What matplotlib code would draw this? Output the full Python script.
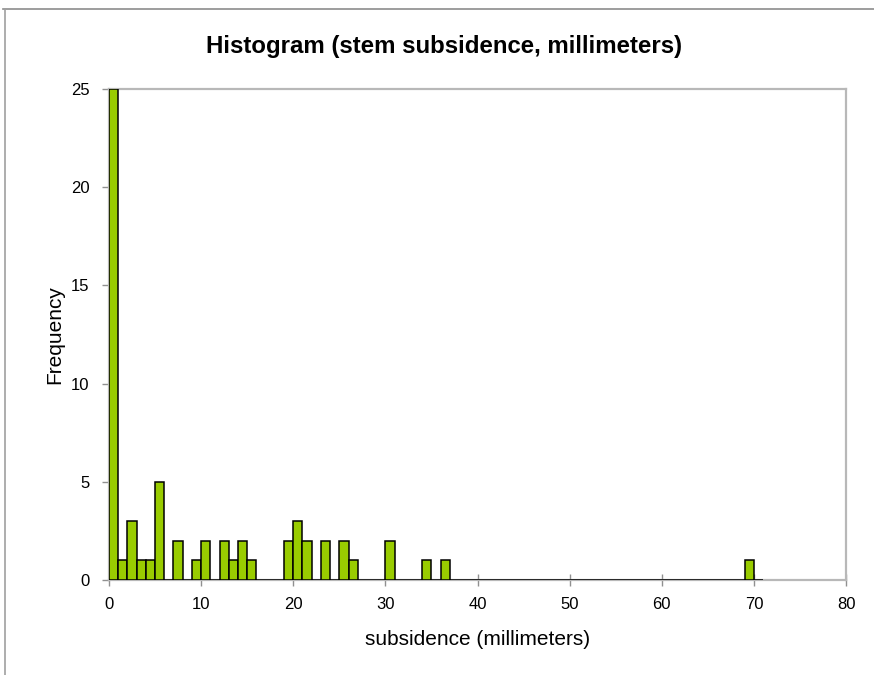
import matplotlib
matplotlib.use("Agg")

import matplotlib.pyplot as plt
from matplotlib.lines import Line2D

plt.rcParams["font.family"] = ["Liberation Sans", "DejaVu Sans"]

# ---------- Data (bins of 1 mm, 0..71) ----------
bin_edges = list(range(0, 72))
counts = [25, 1, 3, 1, 1, 5, 0, 2, 0, 1,
          2, 0, 2, 1, 2, 1, 0, 0, 0, 2,
          3, 2, 0, 2, 0, 2, 1, 0, 0, 0,
          2, 0, 0, 0, 1, 0, 1, 0, 0, 0,
          0, 0, 0, 0, 0, 0, 0, 0, 0, 0,
          0, 0, 0, 0, 0, 0, 0, 0, 0, 0,
          0, 0, 0, 0, 0, 0, 0, 0, 0, 1,
          0]
x_ticks = [0, 10, 20, 30, 40, 50, 60, 70, 80]
y_ticks = [0, 5, 10, 15, 20, 25]

# ---------- Figure ----------
fig = plt.figure(figsize=(8.74, 6.75), dpi=100)
ax = fig.add_axes([109 / 874, 1 - 580 / 675, (846 - 109) / 874, (580 - 89) / 675])

# outer chart frame (top and left visible)
fig.add_artist(Line2D([3 / 874, 1], [1 - 9 / 675, 1 - 9 / 675], color="#8c8c8c", linewidth=1.2))
fig.add_artist(Line2D([5 / 874, 5 / 874], [0, 1 - 9 / 675], color="#a0a0a0", linewidth=1.2))

ax.bar(bin_edges[:-1], counts, width=1, align="edge",
       color="#99cc00", edgecolor="black", linewidth=1.1, zorder=3)

ax.set_xlim(0, 80)
ax.set_ylim(0, 25)
ax.set_xticks(x_ticks)
ax.set_yticks(y_ticks)

for side in ["left", "bottom", "right", "top"]:
    ax.spines[side].set_color("#b8b8b8")
    ax.spines[side].set_linewidth(1.6)

ax.tick_params(axis="x", direction="inout", length=9, width=1, color="#909090",
               labelsize=12, pad=8)
ax.tick_params(axis="y", direction="out", length=5, width=1, color="#909090",
               labelsize=12, pad=9)

ax.set_xlabel("subsidence (millimeters)", fontsize=15, labelpad=13)
ax.set_ylabel("Frequency", fontsize=15, labelpad=5)

fig.text(444 / 874, 1 - 47 / 675, "Histogram (stem subsidence, millimeters)",
         ha="center", va="center", fontsize=17.3, fontweight="bold")

fig.savefig("out.png", dpi=100)
